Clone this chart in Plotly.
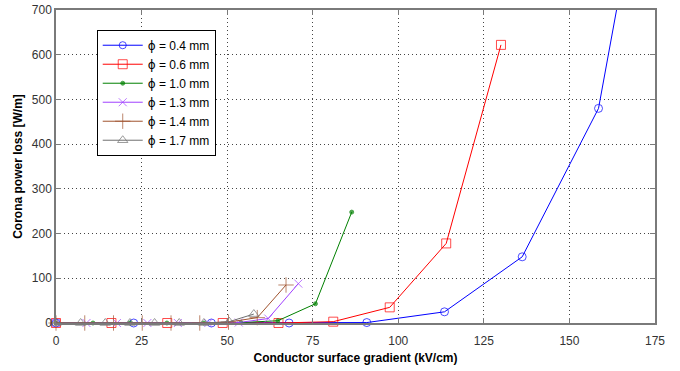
import plotly.graph_objects as go

# Data
x_04 = [0, 22.7, 45.4, 68.1, 90.8, 113.5, 136.2, 158.5, 181.0]
y_04 = [0, 0, 0, 0, 1, 25, 148, 480, 1420]
x_06 = [0, 16.2, 32.5, 48.7, 65.0, 81.0, 97.5, 114.0, 130.0]
y_06 = [0, 0, 0, 0, 0, 3, 35, 178, 622]
x_10 = [0, 10.8, 21.6, 32.4, 43.2, 54.0, 64.8, 75.8, 86.4]
y_10 = [0, 0, 0, 0, 0, 1, 5, 43, 248]
x_13 = [0, 8.9, 17.8, 26.7, 35.6, 44.5, 53.4, 62.0, 70.8]
y_13 = [0, 0, 0, 0, 0, 0, 1, 10, 88]
x_14 = [0, 8.4, 16.8, 25.2, 33.6, 42.0, 50.4, 58.8, 67.2]
y_14 = [0, 0, 0, 0, 0, 0, 2, 12, 85]
x_17 = [0, 7.2, 14.4, 21.6, 28.8, 36.0, 43.2, 50.6, 57.8]
y_17 = [0, 0, 0, 0, 0, 0, 0, 3, 20]
diameters = ["0.4", "0.6", "1.0", "1.3", "1.4", "1.7"]
x_ticks = [0, 25, 50, 75, 100, 125, 150, 175]
y_ticks = [0, 100, 200, 300, 400, 500, 600, 700]

labels = ['<span style="font-family:DejaVu Sans">ϕ</span> = %s mm' % d for d in diameters]

series = [
    (x_04, y_04, "#0000ff", "circle-open", 8),
    (x_06, y_06, "#ff0000", "square-open", 9),
    (x_10, y_10, "#008000", "circle", 4),
    (x_13, y_13, "#a040ff", "x-thin-open", 8),
    (x_14, y_14, "#a0522d", "cross-thin-open", 11),
    (x_17, y_17, "#707070", "triangle-up-open", 9),
]

fig = go.Figure()
for (xs, ys, col, sym, sz), lab in zip(series, labels):
    sizes = [sz if y <= 700 else 0 for y in ys]
    fig.add_trace(go.Scatter(
        x=xs, y=ys, name=lab, mode="lines+markers",
        line=dict(color=col, width=1),
        marker=dict(symbol=sym, size=sizes, color=col, line=dict(color=col, width=1)),
        cliponaxis=False,
    ))

axis_common = dict(
    showline=True, linecolor="#7a7a7a", linewidth=1.5, mirror="ticks",
    ticks="inside", ticklen=5, tickcolor="#7a7a7a",
    showgrid=True, gridcolor="#444444", griddash="1px,3px", gridwidth=1,
    zeroline=False, automargin=False,
    tickfont=dict(family="Liberation Sans", size=12, color="#333333"),
)

fig.update_xaxes(range=[0, 175], tickvals=x_ticks, ticklabelstandoff=6,
                 title=dict(text="<b>Conductor surface gradient (kV/cm)</b>",
                            font=dict(family="Liberation Sans", size=12, color="#000"),
                            standoff=6),
                 **axis_common)
fig.update_yaxes(range=[0, 700], tickvals=y_ticks,
                 title=dict(text="<b>Corona power loss [W/m]</b>",
                            font=dict(family="Liberation Sans", size=12, color="#000"),
                            standoff=7),
                 **axis_common)

fig.update_layout(
    width=680, height=371,
    margin=dict(l=56, r=25, t=10, b=48),
    paper_bgcolor="white", plot_bgcolor="white",
    showlegend=True,
    legend=dict(x=0.068, y=0.937, xanchor="left", yanchor="top",
                bgcolor="white", bordercolor="#000", borderwidth=1,
                font=dict(family="Liberation Sans", size=12, color="#000"),
                tracegroupgap=0, itemwidth=40),
)

fig.write_html("out.html", config={"displayModeBar": False},
               post_script="document.body.style.margin='0';document.body.style.padding='0';")
